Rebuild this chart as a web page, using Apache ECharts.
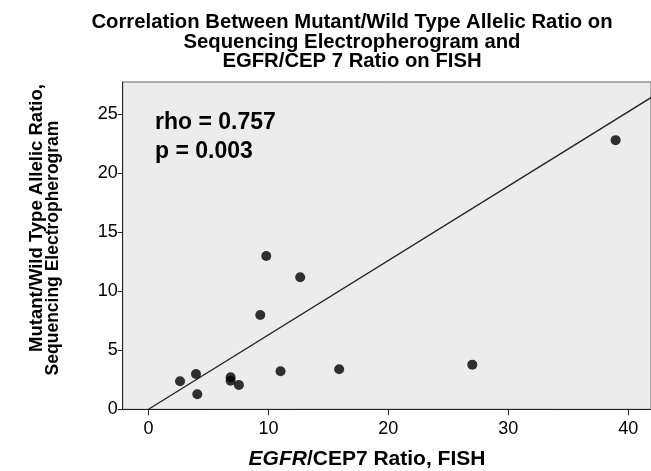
<!DOCTYPE html>
<html>
<head>
<meta charset="utf-8">
<script src="https://cdn.jsdelivr.net/npm/echarts@6/dist/echarts.min.js"></script>
<style>
html,body{margin:0;padding:0;background:#fff;}
#chart{width:651px;height:471px;}
</style>
</head>
<body>
<div id="chart"></div>
<script>
// Data
var fishRatio    = [2.63, 3.96, 4.07, 6.85, 6.85, 7.54, 9.32, 9.82, 11.01, 12.65, 15.9, 27.0, 38.95];
var allelicRatio = [2.37, 2.99, 1.27, 2.71, 2.42, 2.06, 7.98, 12.98, 3.22, 11.18, 3.39, 3.78, 22.78];
var fitLine = [[0, 0], [44, 27.7]];
var xTicks = [0, 10, 20, 30, 40];
var yTicks = [0, 5, 10, 15, 20, 25];
var titleLines = ['Correlation Between Mutant/Wild Type Allelic Ratio on', 'Sequencing Electropherogram and', 'EGFR/CEP 7 Ratio on FISH'];
var statLines = ['rho = 0.757', 'p = 0.003'];
var yNameLines = ['Mutant/Wild Type Allelic Ratio,', 'Sequencing Electropherogram'];
var xNameParts = ['EGFR', '/CEP7 Ratio, FISH'];

var points = fishRatio.map(function (x, i) { return [x, allelicRatio[i]]; });
var FONT = '"Liberation Sans", Arial, Helvetica, sans-serif';

var chart = echarts.init(document.getElementById('chart'), null, {renderer: 'canvas'});
chart.setOption({
  animation: false,
  backgroundColor: '#ffffff',
  title: {
    text: titleLines.join('\n'),
    left: 347,
    top: 8,
    textAlign: 'center',
    textStyle: {fontFamily: FONT, fontSize: 20.3, fontWeight: 'bold', color: '#000', lineHeight: 19.5}
  },
  grid: {
    left: 122.7, top: 82, right: 0, bottom: 61.7,
    show: true, backgroundColor: '#ececec', borderColor: '#666', borderWidth: 1,
    containLabel: false
  },
  xAxis: {
    type: 'value', min: -2.15, max: 41.9,
    splitLine: {show: false},
    axisLine: {show: true, onZero: false, lineStyle: {color: '#222', width: 1}},
    axisTick: {show: true, length: 6, lineStyle: {color: '#222'}, customValues: xTicks},
    axisLabel: {customValues: xTicks, fontFamily: FONT, fontSize: 18, color: '#000', margin: 11}
  },
  yAxis: {
    type: 'value', min: 0, max: 27.7,
    splitLine: {show: false},
    axisLine: {show: true, onZero: false, lineStyle: {color: '#222', width: 1}},
    axisTick: {show: true, length: 5, lineStyle: {color: '#222'}, customValues: yTicks},
    axisLabel: {customValues: yTicks, fontFamily: FONT, fontSize: 18, color: '#000', margin: 5}
  },
  graphic: [
    {type: 'text', x: 155, y: 123, style: {text: statLines[0], font: 'bold 23px ' + FONT, fill: '#000', textAlign: 'left', textVerticalAlign: 'middle'}, z: 100},
    {type: 'text', x: 155, y: 152, style: {text: statLines[1], font: 'bold 23px ' + FONT, fill: '#000', textAlign: 'left', textVerticalAlign: 'middle'}, z: 100},
    {type: 'text', x: 37, y: 218, rotation: Math.PI / 2, style: {text: yNameLines[0], font: 'bold 18.5px ' + FONT, fill: '#000', textAlign: 'center', textVerticalAlign: 'middle'}},
    {type: 'text', x: 53, y: 248, rotation: Math.PI / 2, style: {text: yNameLines[1], font: 'bold 17.5px ' + FONT, fill: '#000', textAlign: 'center', textVerticalAlign: 'middle'}},
    {type: 'text', x: 367, y: 459, style: {
      text: '{i|' + xNameParts[0] + '}{b|' + xNameParts[1] + '}',
      textAlign: 'center', textVerticalAlign: 'middle',
      rich: {
        i: {fontFamily: FONT, fontSize: 21, fontWeight: 'bold', fontStyle: 'italic', fill: '#000', color: '#000'},
        b: {fontFamily: FONT, fontSize: 21, fontWeight: 'bold', fill: '#000', color: '#000'}
      }
    }}
  ],
  series: [
    {
      type: 'line', data: fitLine, showSymbol: false, symbol: 'none', clip: true,
      lineStyle: {color: '#222', width: 1.3}, z: 2, silent: true
    },
    {
      type: 'scatter', data: points, symbol: 'circle', symbolSize: 10,
      itemStyle: {color: '#000'}, z: 3
    }
  ]
});
</script>
</body>
</html>
